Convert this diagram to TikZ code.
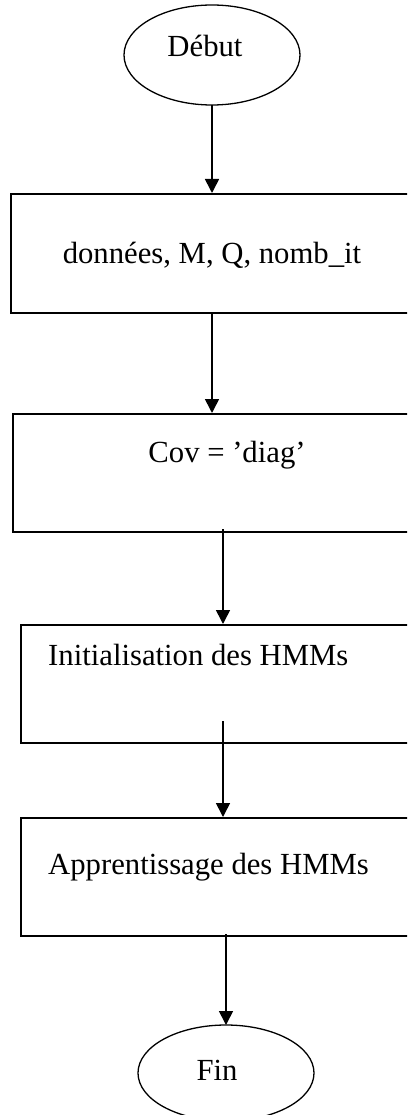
\documentclass[tikz,border=0pt]{standalone}
\usepackage{fontspec}
\setmainfont{Liberation Serif}
\usetikzlibrary{arrows.meta,shapes.geometric}

\tikzset{
  flowbox/.style={draw, line width=1.8pt, rectangle, inner sep=0pt, anchor=north west},
  terminal/.style={draw, line width=1.3pt, ellipse, inner sep=0pt},
  label/.style={font=\fontsize{30.7}{36}\selectfont, inner sep=0pt, anchor=base},
  flow/.style={line width=1.6pt, -{Triangle[length=14pt,width=14pt]}}
}

\begin{document}
\begin{tikzpicture}[x=1pt,y=-1pt]
  \useasboundingbox (0,0) rectangle (407,1115);
  \clip (0,0) rectangle (407,1115);

  % start and end terminals
  \node[terminal, minimum width=176pt, minimum height=100pt] (start) at (212,55) {};
  \node[label] at (205,57) {Début};

  \node[terminal, minimum width=176pt, minimum height=96pt] (stop) at (226,1073) {};
  \node[label] at (217,1080) {Fin};

  % process boxes (their right edges run past the page)
  \node[flowbox, minimum width=410pt, minimum height=119pt] (data) at (10,193) {};
  \node[label] at (212,263) {données, M, Q, nomb\_it};

  \node[flowbox, minimum width=408pt, minimum height=118pt] (cov) at (12,413) {};
  \node[label] at (227,462) {Cov = ’diag’};

  \node[flowbox, minimum width=400pt, minimum height=118pt] (init) at (20,624) {};
  \node[label, anchor=base west] at (48,665) {Initialisation des HMMs};

  \node[flowbox, minimum width=400pt, minimum height=118pt] (train) at (20,817) {};
  \node[label, anchor=base west] at (48,874) {Apprentissage des HMMs};

  % connectors
  \coordinate (c1) at (212,105);
  \coordinate (c2) at (212,193);
  \coordinate (c3) at (212,312);
  \coordinate (c4) at (212,413);
  \coordinate (c5) at (223,529);
  \coordinate (c6) at (223,624);
  \coordinate (c7) at (223,721);
  \coordinate (c8) at (223,817);
  \coordinate (c9) at (226,934);
  \coordinate (c10) at (226,1025);

  \draw[flow] (c1) -- (c2);
  \draw[flow] (c3) -- (c4);
  \draw[flow] (c5) -- (c6);
  \draw[flow] (c7) -- (c8);
  \draw[flow] (c9) -- (c10);
\end{tikzpicture}
\end{document}
